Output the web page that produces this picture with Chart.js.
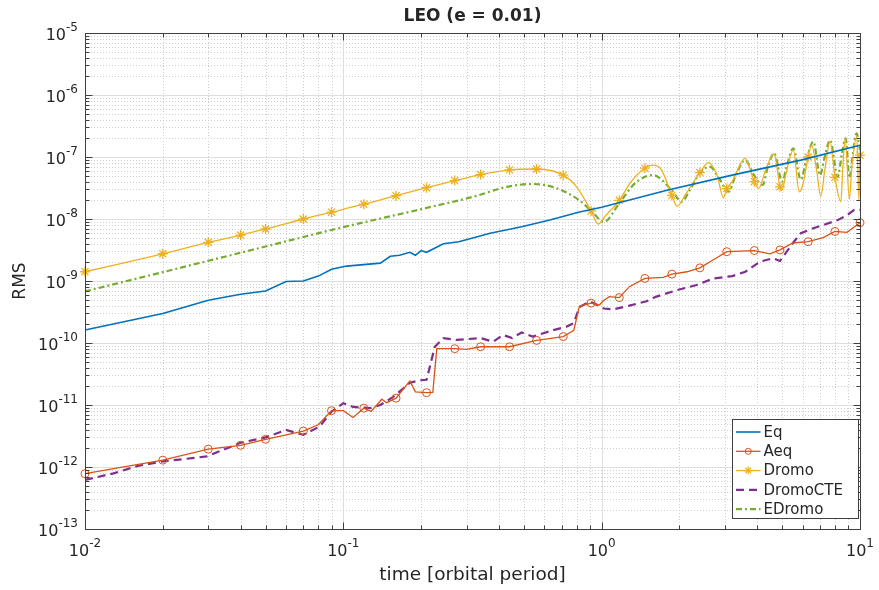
<!DOCTYPE html>
<html>
<head>
<meta charset="utf-8">
<title>LEO (e = 0.01)</title>
<script src="https://cdn.jsdelivr.net/npm/chart.js@4.4.0/dist/chart.umd.min.js"></script>
<style>
  body { margin: 0; background: #fff; }
  canvas { display: block; }
</style>
</head>
<body>
<canvas id="rmsChart" width="879" height="590"></canvas>
<script>
// times where the Aeq / Dromo markers sit
const markTimes = [0.01, 0.02, 0.03, 0.04, 0.05, 0.07, 0.09, 0.12, 0.16, 0.21, 0.27, 0.34, 0.44, 0.56,
  0.71, 0.91, 1.17, 1.47, 1.87, 2.4, 3.05, 3.9, 4.9, 6.3, 8.0, 10];

const eqT = [0.01, 0.02, 0.03, 0.04, 0.05, 0.06, 0.07, 0.08, 0.09, 0.103, 0.139, 0.152, 0.165, 0.181,
  0.19, 0.2, 0.21, 0.244, 0.28, 0.37, 0.49, 0.63, 0.82, 1.0, 1.79, 3.2, 5.9, 10];
const eqV = [1.62e-10, 3.0e-10, 4.9e-10, 6.1e-10, 6.9e-10, 9.8e-10, 1.0e-9, 1.2e-9, 1.55e-9, 1.74e-9,
  1.94e-9, 2.5e-9, 2.6e-9, 2.9e-9, 2.6e-9, 3.1e-9, 2.9e-9, 4.0e-9, 4.3e-9, 5.9e-9, 7.5e-9, 9.6e-9,
  1.3e-8, 1.55e-8, 2.9e-8, 5.1e-8, 8.9e-8, 1.55e-7];

const aeqT = [0.01, 0.02, 0.03, 0.04, 0.05, 0.07, 0.08, 0.09, 0.1, 0.109, 0.12, 0.128, 0.141, 0.147,
  0.16, 0.181, 0.19, 0.21, 0.222, 0.23, 0.27, 0.3, 0.34, 0.44, 0.56, 0.71, 0.78, 0.82, 0.91, 0.98,
  1.02, 1.07, 1.17, 1.28, 1.47, 1.73, 1.87, 2.14, 2.4, 2.77, 3.05, 3.9, 4.48, 4.9, 5.5, 6.3, 7.2,
  8.0, 8.9, 10];
const aeqV = [7.8e-13, 1.29e-12, 1.94e-12, 2.24e-12, 2.8e-12, 3.8e-12, 4.8e-12, 8.1e-12, 8.1e-12,
  6.3e-12, 8.9e-12, 7.9e-12, 1.24e-11, 1.09e-11, 1.29e-11, 2.45e-11, 1.63e-11, 1.58e-11, 1.6e-11,
  8.1e-11, 8.1e-11, 7.9e-11, 8.7e-11, 8.7e-11, 1.1e-10, 1.27e-10, 1.6e-10, 3.9e-10, 4.4e-10,
  4.1e-10, 4.9e-10, 5.6e-10, 5.4e-10, 8.1e-10, 1.1e-9, 1.14e-9, 1.29e-9, 1.41e-9, 1.63e-9, 2.33e-9,
  2.97e-9, 3.1e-9, 2.74e-9, 3.17e-9, 4.1e-9, 4.3e-9, 5.0e-9, 6.3e-9, 6.1e-9, 8.7e-9];

const dromoT = [0.01, 0.02, 0.03, 0.04, 0.05, 0.07, 0.09, 0.12, 0.16, 0.21, 0.27, 0.34, 0.44, 0.56,
  0.71, 0.8, 0.91, 0.97, 1.03, 1.17, 1.3, 1.47, 1.58, 1.7, 1.87, 1.96, 2.1, 2.4, 2.59, 2.8, 2.96,
  3.05, 3.2, 3.59, 3.9, 4.05, 4.3, 4.65, 4.9, 4.98, 5.2, 5.52, 5.82, 6.0, 6.3, 6.5, 6.8, 7.05, 7.3,
  7.66, 8.0, 8.43, 8.6, 8.76, 9.1, 9.3, 9.72, 9.9, 10];
const dromoV = [1.41e-9, 2.75e-9, 4.2e-9, 5.5e-9, 6.9e-9, 1.0e-8, 1.29e-8, 1.73e-8, 2.38e-8, 3.2e-8,
  4.16e-8, 5.2e-8, 6.2e-8, 6.4e-8, 5.1e-8, 3.3e-8, 1.35e-8, 8.3e-9, 1.1e-8, 2.0e-8, 4.0e-8, 6.6e-8,
  7.4e-8, 6.3e-8, 2.4e-8, 1.6e-8, 2.4e-8, 5.6e-8, 8.1e-8, 5.0e-8, 2.2e-8, 3.1e-8, 4.0e-8, 9.5e-8,
  4.0e-8, 3.1e-8, 6.0e-8, 1.13e-7, 3.3e-8, 2.9e-8, 6.0e-8, 1.3e-7, 2.75e-8, 3.5e-8, 1.0e-7, 1.55e-7,
  6.0e-8, 2.3e-8, 6.0e-8, 1.77e-7, 4.7e-8, 1.9e-8, 8.0e-8, 2.0e-7, 2.1e-8, 7.0e-8, 2.14e-7, 2.0e-8,
  1.07e-7];

const cteT = [0.01, 0.0129, 0.016, 0.02, 0.0296, 0.04, 0.05, 0.06, 0.07, 0.081, 0.09, 0.1, 0.109,
  0.127, 0.139, 0.156, 0.181, 0.197, 0.21, 0.226, 0.244, 0.275, 0.34, 0.38, 0.415, 0.45, 0.49, 0.54,
  0.65, 0.73, 0.78, 0.82, 0.9, 1.02, 1.11, 1.28, 1.49, 1.63, 1.95, 2.33, 2.71, 3.2, 3.6, 4.1, 4.6,
  4.9, 5.5, 5.9, 6.6, 7.4, 8.2, 8.9, 9.5, 10];
const cteV = [6.2e-13, 7.9e-13, 1.04e-12, 1.23e-12, 1.48e-12, 2.46e-12, 3.0e-12, 3.96e-12, 3.3e-12,
  4.5e-12, 7.8e-12, 1.07e-11, 9.3e-12, 8.9e-12, 1.0e-11, 1.35e-11, 2.28e-11, 2.5e-11, 2.55e-11,
  8.7e-11, 1.2e-10, 1.12e-10, 1.2e-10, 1.05e-10, 1.35e-10, 1.2e-10, 1.48e-10, 1.27e-10, 1.61e-10,
  1.83e-10, 2.1e-10, 3.8e-10, 4.7e-10, 3.6e-10, 3.5e-10, 4.0e-10, 4.7e-10, 5.6e-10, 7.1e-10,
  8.6e-10, 1.1e-9, 1.2e-9, 1.41e-9, 2.05e-9, 2.33e-9, 2.1e-9, 4.1e-9, 5.9e-9, 7.1e-9, 8.3e-9,
  9.6e-9, 1.15e-8, 1.4e-8, 1.4e-8];

const edromoT = [0.01, 0.02, 0.05, 0.1, 0.2, 0.32, 0.43, 0.54, 0.66, 0.82, 0.92, 1.02, 1.17, 1.35,
  1.58, 1.87, 2.04, 2.2, 2.4, 2.62, 2.85, 3.1, 3.3, 3.59, 3.9, 4.2, 4.4, 4.65, 5.0, 5.2, 5.52, 5.9,
  6.2, 6.6, 7.0, 7.3, 7.66, 8.2, 8.5, 8.8, 9.1, 9.4, 9.7, 10];
const edromoV = [6.8e-10, 1.39e-9, 3.6e-9, 7.4e-9, 1.44e-8, 2.3e-8, 3.3e-8, 3.67e-8, 3.2e-8, 2.0e-8,
  1.3e-8, 9.0e-9, 1.8e-8, 3.8e-8, 5.1e-8, 2.9e-8, 1.9e-8, 3.0e-8, 5.5e-8, 7.0e-8, 4.5e-8, 2.75e-8,
  5.0e-8, 8.9e-8, 5.0e-8, 3.55e-8, 7.0e-8, 1.15e-7, 4.0e-8, 7.0e-8, 1.38e-7, 4.3e-8, 9.0e-8, 1.77e-7,
  5.1e-8, 1.0e-7, 1.87e-7, 4.8e-8, 1.1e-7, 2.0e-7, 4.6e-8, 1.2e-7, 2.4e-7, 1.3e-7];

const seriesNames = ['Eq', 'Aeq', 'Dromo', 'DromoCTE', 'EDromo'];
const seriesColors = ['#0072BD', '#D95319', '#EDB120', '#7E2F8E', '#77AC30'];

const FONT = '"DejaVu Sans", "Liberation Sans", sans-serif';
const TXT = '#262626';

function pts(t, v) {
  return t.map((x, i) => ({ x: x, y: v[i] }));
}
function marker(t, r) {
  return c => markTimes.includes(t[c.dataIndex]) ? r : 0;
}

// log-scale ticks 1..9 x 10^n between min and max
function logTicks(min, max) {
  const out = [];
  for (let e = Math.round(Math.log10(min)); e <= Math.round(Math.log10(max)); e++) {
    for (let m = 1; m < 10; m++) {
      const v = m * Math.pow(10, e);
      if (v > max * 1.0001) break;
      out.push({ v: v, e: e, major: m === 1 });
    }
  }
  return out;
}

function drawPow(ctx, e, x, y, align) {
  const base = '10', sup = String(e);
  ctx.font = '16px ' + FONT;
  const wb = ctx.measureText(base).width;
  ctx.font = '12px ' + FONT;
  const ws = ctx.measureText(sup).width;
  let x0 = x;
  if (align === 'right') x0 = x - wb - ws;
  if (align === 'center') x0 = x - (wb + ws) / 2;
  ctx.fillStyle = TXT;
  ctx.textAlign = 'left';
  ctx.textBaseline = 'middle';
  ctx.font = '16px ' + FONT;
  ctx.fillText(base, x0, y);
  ctx.font = '12px ' + FONT;
  ctx.fillText(sup, x0 + wb, y - 8);
}

const matlabAxes = {
  id: 'matlabAxes',
  beforeDatasetsDraw(chart) {
    const { ctx, chartArea: a, scales: { x, y } } = chart;
    ctx.save();
    ctx.lineWidth = 1;
    const xt = logTicks(x.min, x.max), yt = logTicks(y.min, y.max);
    // minor grid, dotted
    ctx.strokeStyle = '#cfcfcf';
    ctx.setLineDash([1, 2]);
    ctx.beginPath();
    xt.filter(t => !t.major).forEach(t => {
      const p = Math.round(x.getPixelForValue(t.v)) + 0.5;
      ctx.moveTo(p, a.top); ctx.lineTo(p, a.bottom);
    });
    yt.filter(t => !t.major).forEach(t => {
      const p = Math.round(y.getPixelForValue(t.v)) + 0.5;
      ctx.moveTo(a.left, p); ctx.lineTo(a.right, p);
    });
    ctx.stroke();
    // major grid, solid
    ctx.setLineDash([]);
    ctx.strokeStyle = '#dedede';
    ctx.beginPath();
    xt.filter(t => t.major).forEach(t => {
      const p = Math.round(x.getPixelForValue(t.v)) + 0.5;
      ctx.moveTo(p, a.top); ctx.lineTo(p, a.bottom);
    });
    yt.filter(t => t.major).forEach(t => {
      const p = Math.round(y.getPixelForValue(t.v)) + 0.5;
      ctx.moveTo(a.left, p); ctx.lineTo(a.right, p);
    });
    ctx.stroke();
    ctx.restore();
  },
  afterDatasetsDraw(chart) {
    const { ctx, chartArea: a, scales: { x, y } } = chart;
    ctx.save();
    const L = Math.round(a.left) + 0.5, R = Math.round(a.right) + 0.5;
    const T = Math.round(a.top) + 0.5, B = Math.round(a.bottom) + 0.5;
    ctx.strokeStyle = '#404040';
    ctx.lineWidth = 1;
    ctx.strokeRect(L, T, R - L, B - T);

    // inward ticks on all four sides
    ctx.beginPath();
    logTicks(x.min, x.max).forEach(t => {
      const p = Math.round(x.getPixelForValue(t.v)) + 0.5;
      const len = t.major ? 7 : 4;
      ctx.moveTo(p, B); ctx.lineTo(p, B - len);
      ctx.moveTo(p, T); ctx.lineTo(p, T + len);
    });
    logTicks(y.min, y.max).forEach(t => {
      const p = Math.round(y.getPixelForValue(t.v)) + 0.5;
      const len = t.major ? 7 : 4;
      ctx.moveTo(L, p); ctx.lineTo(L + len, p);
      ctx.moveTo(R, p); ctx.lineTo(R - len, p);
    });
    ctx.stroke();

    // tick labels
    logTicks(x.min, x.max).filter(t => t.major).forEach(t => {
      drawPow(ctx, t.e, x.getPixelForValue(t.v), a.bottom + 23, 'center');
    });
    logTicks(y.min, y.max).filter(t => t.major).forEach(t => {
      drawPow(ctx, t.e, a.left - 7, y.getPixelForValue(t.v) + 3, 'right');
    });

    // title and axis titles
    const cx = (a.left + a.right) / 2;
    ctx.fillStyle = TXT;
    ctx.textAlign = 'center';
    ctx.textBaseline = 'middle';
    ctx.font = 'bold 17px ' + FONT;
    ctx.fillText('LEO (e = 0.01)', cx, 17);
    ctx.font = '18.5px ' + FONT;
    ctx.fillText('time [orbital period]', cx, 575);
    ctx.save();
    ctx.translate(21, (a.top + a.bottom) / 2);
    ctx.rotate(-Math.PI / 2);
    ctx.font = '17px ' + FONT;
    ctx.fillText('RMS', 0, 0);
    ctx.restore();

    // legend box in the lower right corner
    const bx = 732.5, by = 419.5, bw = 126, bh = 99;
    ctx.fillStyle = '#fff';
    ctx.fillRect(bx, by, bw, bh);
    ctx.strokeStyle = '#404040';
    ctx.strokeRect(bx, by, bw, bh);
    chart.data.datasets.forEach((ds, i) => {
      const ly = by + 12.5 + i * 19.3;
      ctx.strokeStyle = ds.borderColor;
      ctx.lineWidth = ds.borderWidth;
      ctx.setLineDash(ds.borderDash || []);
      ctx.beginPath();
      ctx.moveTo(bx + 3.5, ly); ctx.lineTo(bx + 28, ly);
      ctx.stroke();
      ctx.setLineDash([]);
      if (ds.pointStyle === 'circle') {
        ctx.lineWidth = 1;
        ctx.beginPath();
        ctx.arc(bx + 15.75, ly, 3, 0, Math.PI * 2);
        ctx.stroke();
      } else if (ds.pointStyle === 'star') {
        ctx.lineWidth = 1.2;
        ctx.beginPath();
        for (let k = 0; k < 4; k++) {
          const ang = k * Math.PI / 4;
          ctx.moveTo(bx + 15.75 - 4 * Math.cos(ang), ly - 4 * Math.sin(ang));
          ctx.lineTo(bx + 15.75 + 4 * Math.cos(ang), ly + 4 * Math.sin(ang));
        }
        ctx.stroke();
      }
      ctx.fillStyle = TXT;
      ctx.textAlign = 'left';
      ctx.font = '15px ' + FONT;
      ctx.fillText(ds.label, bx + 31, ly + 1);
    });
    ctx.restore();
  }
};

new Chart(document.getElementById('rmsChart'), {
  type: 'line',
  data: {
    datasets: [
      {
        label: seriesNames[0], data: pts(eqT, eqV),
        borderColor: seriesColors[0], borderWidth: 1.6, pointRadius: 0, tension: 0
      },
      {
        label: seriesNames[1], data: pts(aeqT, aeqV),
        borderColor: seriesColors[1], borderWidth: 1.3, tension: 0,
        pointStyle: 'circle', pointRadius: marker(aeqT, 4),
        pointBorderColor: seriesColors[1], pointBackgroundColor: 'rgba(0,0,0,0)', pointBorderWidth: 1
      },
      {
        label: seriesNames[2], data: pts(dromoT, dromoV),
        borderColor: seriesColors[2], borderWidth: 1.3, cubicInterpolationMode: 'monotone',
        pointStyle: 'star', pointRadius: marker(dromoT, 5),
        pointBorderColor: seriesColors[2], pointBackgroundColor: seriesColors[2], pointBorderWidth: 1.3
      },
      {
        label: seriesNames[3], data: pts(cteT, cteV),
        borderColor: seriesColors[3], borderWidth: 2.2, borderDash: [8, 5], pointRadius: 0, tension: 0
      },
      {
        label: seriesNames[4], data: pts(edromoT, edromoV),
        borderColor: seriesColors[4], borderWidth: 2.2, borderDash: [6, 3, 2, 3],
        cubicInterpolationMode: 'monotone', pointRadius: 0
      }
    ]
  },
  options: {
    responsive: false,
    animation: false,
    clip: false,
    layout: { padding: { left: 85, right: 19, top: 33, bottom: 61 } },
    scales: {
      x: { type: 'logarithmic', min: 0.01, max: 10, display: false },
      y: { type: 'logarithmic', min: 1e-13, max: 1e-5, display: false }
    },
    plugins: {
      legend: { display: false },
      tooltip: { enabled: false }
    }
  },
  plugins: [matlabAxes]
});
</script>
</body>
</html>
